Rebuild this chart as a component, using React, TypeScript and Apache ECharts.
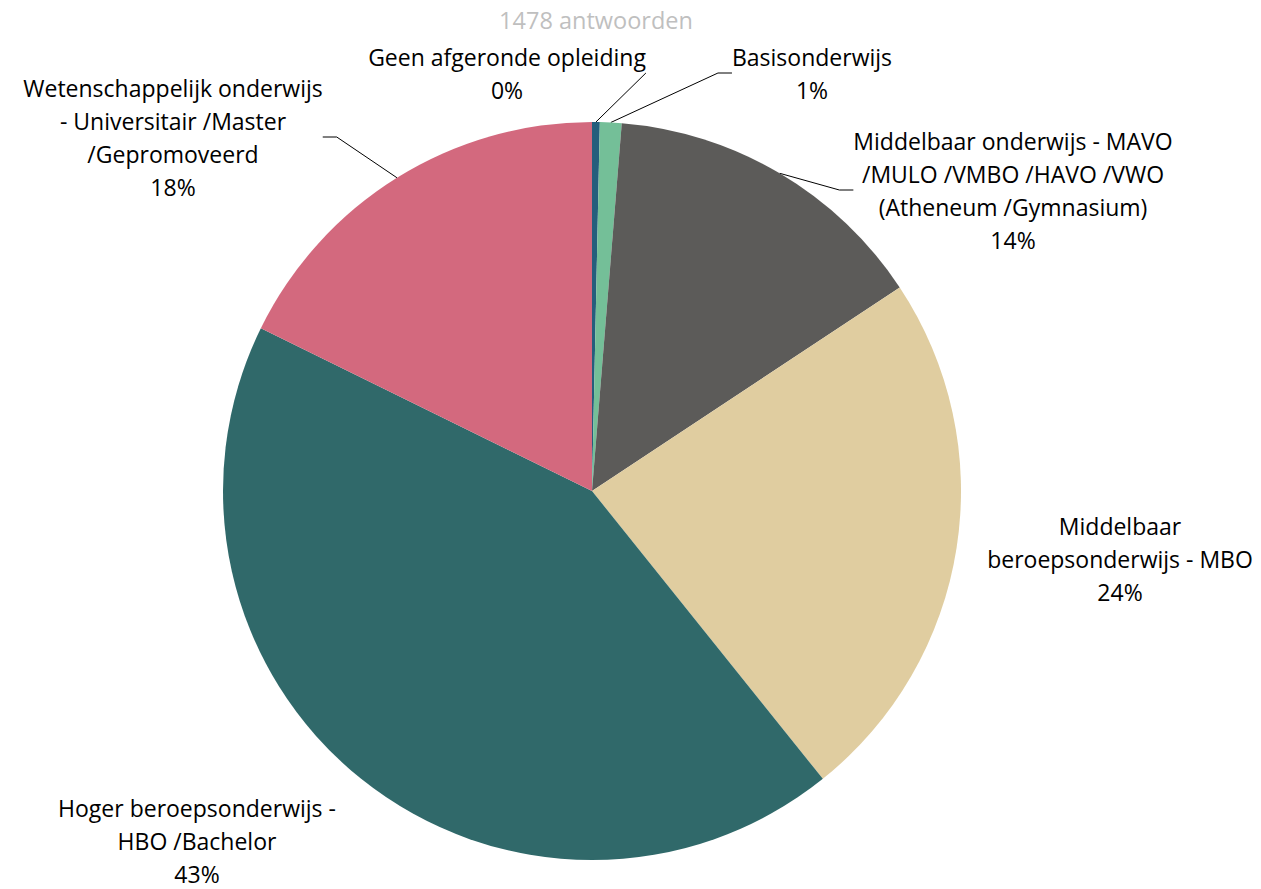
import React, { useEffect, useRef } from "react";
import * as echarts from "echarts";

const title = "1478 antwoorden";
const categories = [
  "Geen afgeronde opleiding",
  "Basisonderwijs",
  "Middelbaar onderwijs - MAVO /MULO /VMBO /HAVO /VWO (Atheneum /Gymnasium)",
  "Middelbaar beroepsonderwijs - MBO",
  "Hoger beroepsonderwijs - HBO /Bachelor",
  "Wetenschappelijk onderwijs - Universitair /Master /Gepromoveerd",
];
const wrappedLabels = [
  "Geen afgeronde opleiding",
  "Basisonderwijs",
  "Middelbaar onderwijs - MAVO\n/MULO /VMBO /HAVO /VWO\n(Atheneum /Gymnasium)",
  "Middelbaar\nberoepsonderwijs - MBO",
  "Hoger beroepsonderwijs -\nHBO /Bachelor",
  "Wetenschappelijk onderwijs\n- Universitair /Master\n/Gepromoveerd",
];
const counts = [5, 14, 213, 348, 636, 262];
const colors = ["#255E7C", "#74BF98", "#5C5B59", "#E0CDA0", "#30696A", "#D3697E"];
const showLeader = [true, true, true, false, false, true];
// label block anchor (center x, top y) in px
const labelAnchors: [number, number][] = [
  [507, 40],
  [812, 40],
  [1013, 124],
  [1120, 509],
  [197, 791],
  [173, 71],
];

export default function App() {
  const ref = useRef<HTMLDivElement>(null);
  useEffect(() => {
    if (!ref.current) return;
    const chart = echarts.init(ref.current, undefined, { renderer: "svg" });
    const total = counts.reduce((a, b) => a + b, 0);
    chart.setOption({
      animation: false,
      backgroundColor: "#ffffff",
      title: {
        text: title,
        left: 591,
        top: 3,
        textAlign: "center",
        textStyle: {
          color: "#BFBFBF",
          fontSize: 23.5,
          fontWeight: "normal",
          fontFamily: "'Open Sans', sans-serif",
        },
      },
      series: [
        {
          type: "pie",
          center: [592, 491],
          radius: 369,
          startAngle: 90,
          clockwise: true,
          avoidLabelOverlap: false,
          data: categories.map((c, i) => ({
            name: c,
            value: counts[i],
            itemStyle: { color: colors[i] },
            labelLine: { show: showLeader[i] },
          })),
          itemStyle: { borderWidth: 0 },
          label: {
            show: true,
            position: "outside",
            color: "#000000",
            fontSize: 23,
            lineHeight: 33,
            fontFamily: "'Open Sans', sans-serif",
            align: "center",
            formatter: (p: any) =>
              wrappedLabels[p.dataIndex] + "\n" + Math.round((p.value / total) * 100) + "%",
          },
          labelLine: {
            show: true,
            length: 20,
            length2: 14,
            lineStyle: { color: "#000000", width: 1 },
          },
          labelLayout: (params: any) => {
            const a = labelAnchors[params.dataIndex];
            return { x: a[0], y: a[1], align: "center", verticalAlign: "top" };
          },
          emphasis: { disabled: true },
        },
      ],
    });
    return () => chart.dispose();
  }, []);
  return (
    <div
      ref={ref}
      style={{ position: "absolute", left: 0, top: 0, width: 1261, height: 889 }}
    />
  );
}
